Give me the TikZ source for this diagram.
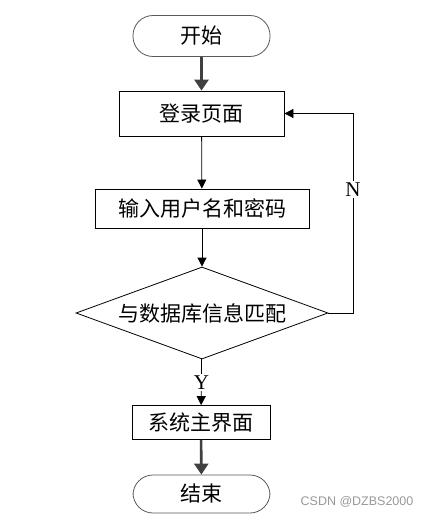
\documentclass[tikz,border=0pt]{standalone}
\usepackage{fontspec}
\setmainfont{Liberation Serif}
\newfontfamily\cjk{Noto Sans CJK SC}
\newfontfamily\wmfont{Liberation Sans}
\usetikzlibrary{shapes.geometric,arrows.meta}

\begin{document}
\begin{tikzpicture}[x=1pt,y=-1pt,
        terminal/.style={draw=black!65, line width=0.8pt, rounded corners=20pt,
            minimum width=137pt, minimum height=41pt, font=\cjk\fontsize{21}{24}\selectfont},
        stepbox/.style={draw=black, line width=0.8pt, inner sep=0pt,
            font=\cjk\fontsize{21}{24}\selectfont},
        decision/.style={diamond, draw=black, line width=0.8pt, inner sep=0pt,
            minimum width=252pt, minimum height=92pt, shape aspect=2.74,
            font=\cjk\fontsize{21}{24}\selectfont},
        flow/.style={draw=black, line width=0.8pt, -{Triangle[length=9pt,width=9pt]}},
        bigflow/.style={draw=black!75, line width=2.6pt, -{Triangle[length=11pt,width=14pt]}},
        yn/.style={fill=white, inner sep=1.5pt, font=\fontsize{21}{24}\selectfont}]
        \useasboundingbox (0,0) rectangle (430,518);

        % Nodes.
        \node[terminal] (start) at (201.5,36) {开始};
        \node[stepbox, minimum width=165pt, minimum height=45pt] (login) at (201.5,113.5) {登录页面};
        \node[stepbox, minimum width=214pt, minimum height=39pt] (input) at (202,208.5) {输入用户名和密码};
        \node[decision] (check) at (202,313) {与数据库信息匹配};
        \node[stepbox, minimum width=138pt, minimum height=34pt] (home) at (201,422.5) {系统主界面};
        \node[terminal, minimum height=38pt] (stop) at (201.5,494) {结束};
        \coordinate (back) at (353,313);

        % Connectors.
        \draw[bigflow] (start) -- (login);
        \draw[flow] (login) -- (input);
        \draw[flow] (input) -- (check);
        \draw[flow] (check) -- node[yn] {Y} (home);
        \draw[flow] (check.east) -- (back) |- node[yn, pos=0.31] {N} (login.east);
        \draw[bigflow] (home) -- (stop);

        \node[text=black!40, font=\wmfont\fontsize{12.5}{14}\selectfont] (mark) at (357,502) {CSDN @DZBS2000};
    \end{tikzpicture}
\end{document}
